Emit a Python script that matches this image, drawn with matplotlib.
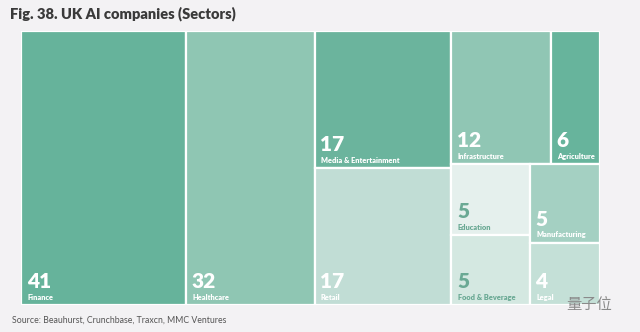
import matplotlib
matplotlib.use("Agg")
import matplotlib.pyplot as plt
from matplotlib.patches import Rectangle

plt.rcParams['font.family'] = ['Lato', 'DejaVu Sans']

# data
sectors = ["Finance", "Healthcare", "Media & Entertainment", "Retail",
           "Infrastructure", "Agriculture", "Education", "Food & Beverage",
           "Manufacturing", "Legal"]
counts = [41, 32, 17, 17, 12, 6, 5, 5, 5, 4]
tile_colors = ["#66b39b", "#8fc6b3", "#6bb49d", "#c1ddd5", "#90c6b4",
               "#67b49c", "#e5f0ed", "#d4e8e1", "#a4d0c2", "#c4e0d7"]
text_colors = ["white", "white", "white", "white", "white",
               "white", "#6aa994", "#6aa994", "white", "white"]

# nesting of the tiles: 'h' splits side by side, 'v' splits top to bottom
layout = ['h', 0, 1, ['v', 2, 3],
          ['v', ['h', 4, 5], ['h', ['v', 6, 7], ['v', 8, 9]]]]


def total(node):
    if isinstance(node, int):
        return counts[node]
    return sum(total(n) for n in node[1:])


def place(node, x, y, w, h, out):
    if isinstance(node, int):
        out[node] = (x, y, w, h)
        return
    s = total(node)
    pos = 0
    for child in node[1:]:
        f = total(child) / s
        if node[0] == 'h':
            place(child, x + pos * w, y, f * w, h, out)
        else:
            place(child, x, y + pos * h, w, f * h, out)
        pos += f


rects = {}
place(layout, 0, 0, 1, 1, rects)

fig = plt.figure(figsize=(6.4, 3.32), dpi=100, facecolor='#f3f2f4')
ax = fig.add_axes([0.033, 0.081, 0.905, 0.826])
ax.set_xlim(0, 1)
ax.set_ylim(1, 0)
ax.axis('off')

for i, name in enumerate(sectors):
    x, y, w, h = rects[i]
    ax.add_patch(Rectangle((x, y), w, h, facecolor=tile_colors[i],
                           edgecolor='white', linewidth=1.6))
    ax.annotate(str(counts[i]), (x, y + h), xytext=(4, 10),
                textcoords='offset points', fontsize=15, fontweight='heavy',
                color=text_colors[i], va='bottom', ha='left')
    ax.annotate(name, (x, y + h), xytext=(4.5, 3),
                textcoords='offset points', fontsize=5.3, fontweight='heavy',
                color=text_colors[i], va='bottom', ha='left')

fig.text(0.016, 0.958, "Fig. 38. UK AI companies (Sectors)", fontsize=10.5,
         fontweight='heavy', color='#3a3a3a', va='center')
fig.text(0.019, 0.036, "Source: Beauhurst, Crunchbase, Traxcn, MMC Ventures",
         fontsize=6.3, color='#555555', va='center')
fig.text(0.92, 0.083, "量子位", fontsize=11, color='#8a8a8a', va='center',
         ha='center', family=['Noto Sans CJK SC', 'DejaVu Sans'])

fig.savefig("out.png", dpi=100, facecolor=fig.get_facecolor())
